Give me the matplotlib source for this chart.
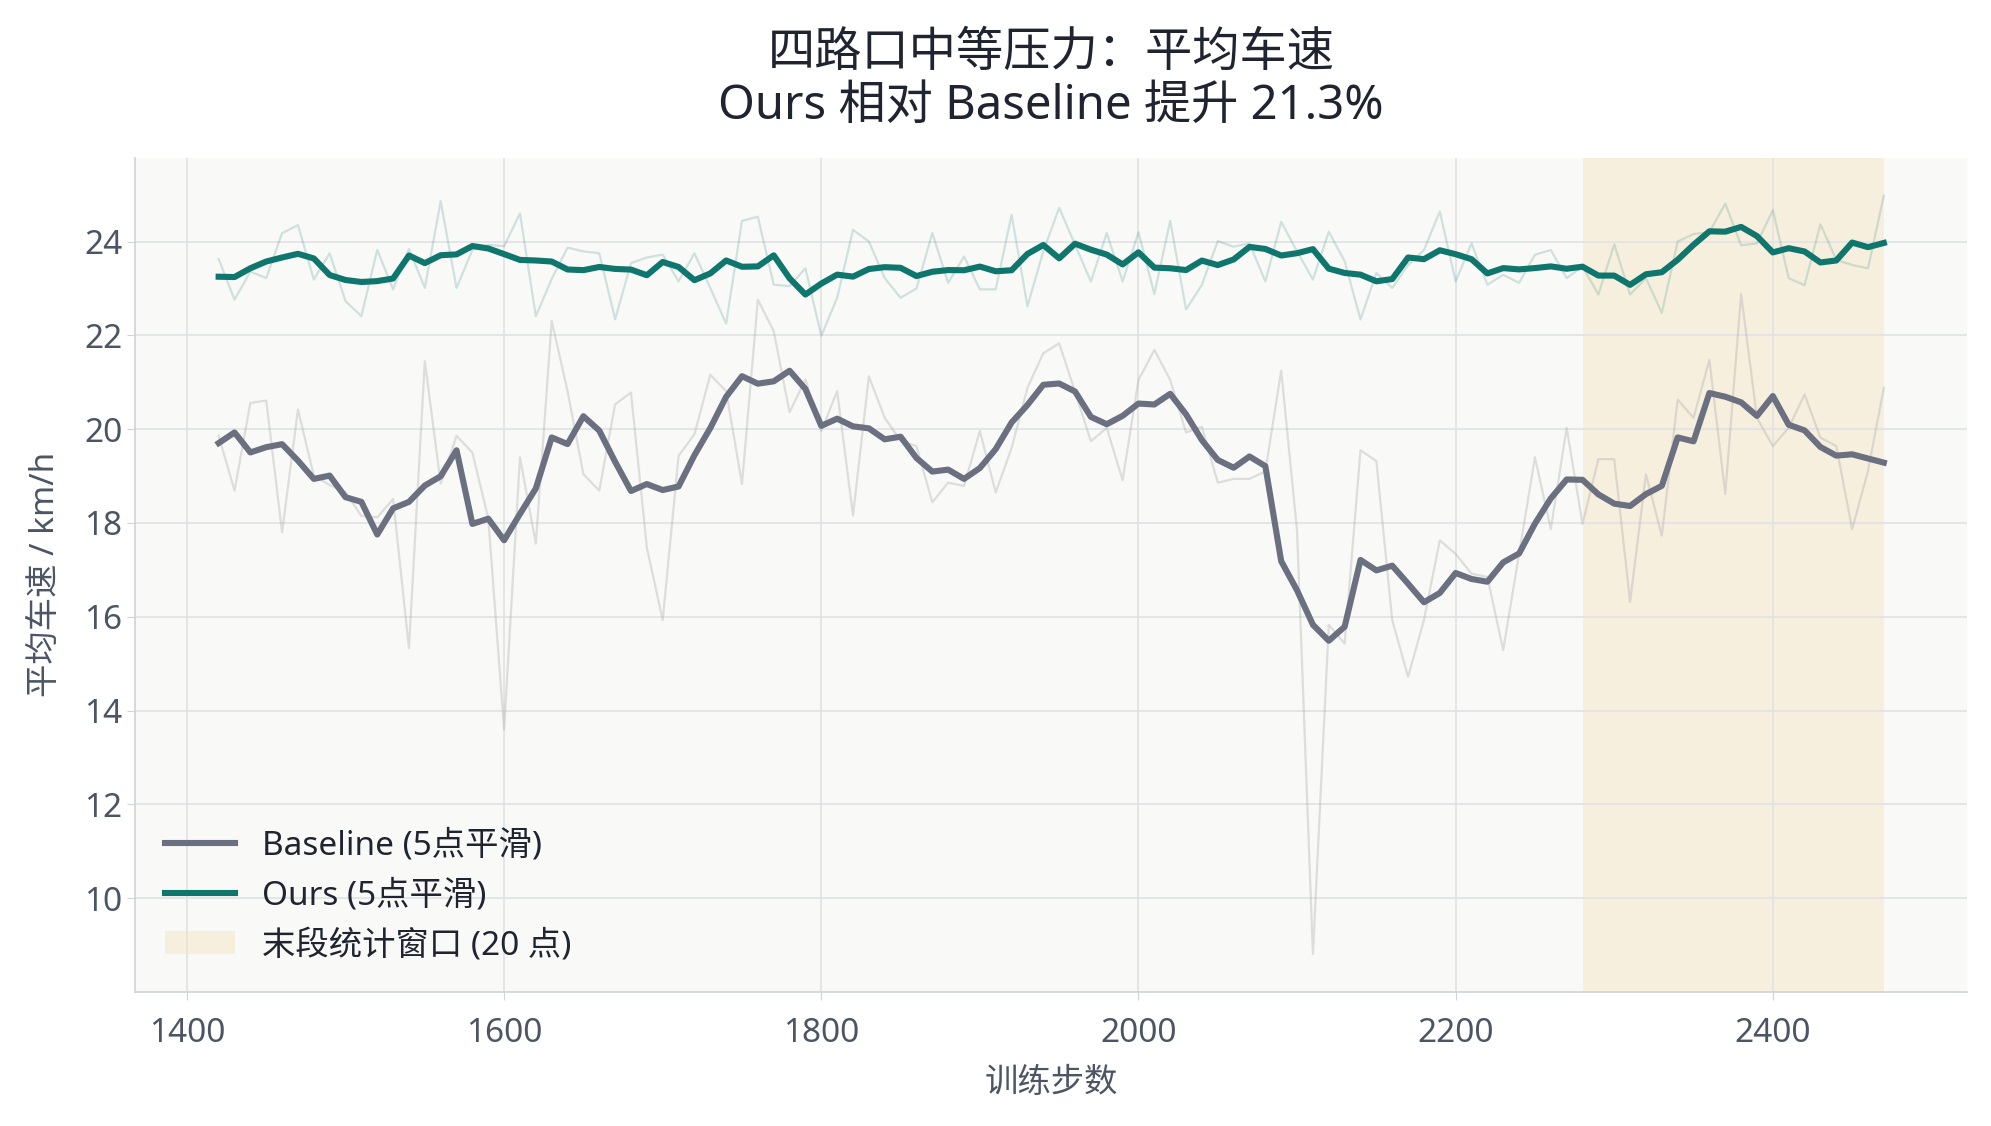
"""
四路口中等压力：平均车速 (Baseline vs Ours)
"""

import numpy as np
import pandas as pd
import matplotlib
matplotlib.use('Agg')
import matplotlib.pyplot as plt

plt.rcParams['font.family'] = ['Noto Sans', 'Noto Sans CJK SC', 'DejaVu Sans']
plt.rcParams['axes.unicode_minus'] = False

# training steps, one point every 10 steps
steps = np.arange(1420, 2471, 10)

# raw average speed (km/h)
baseline_raw = [
    19.86, 18.69, 20.56, 20.61, 17.80, 20.42, 19.01, 18.81, 18.66, 18.15,
    18.12, 18.51, 15.33, 21.45, 18.84, 19.86, 19.50, 18.10, 13.60, 19.40,
    17.56, 22.31, 20.81, 19.04, 18.69, 20.53, 20.78, 17.48, 15.93, 19.43,
    19.89, 21.16, 20.81, 18.83, 22.76, 22.09, 20.36, 21.06, 19.96, 20.81,
    18.16, 21.13, 20.24, 19.75, 19.64, 18.44, 18.86, 18.79, 19.96, 18.65,
    19.60, 20.88, 21.62, 21.83, 20.80, 19.74, 20.03, 18.91, 21.05, 21.69,
    21.05, 19.93, 20.05, 18.86, 18.94, 18.94, 19.10, 21.25, 17.83, 8.81,
    15.83, 15.43, 19.55, 19.32, 15.93, 14.72, 15.93, 17.63, 17.34, 16.92,
    16.85, 15.29, 17.34, 19.40, 17.87, 20.03, 17.98, 19.36, 19.36, 16.32,
    19.04, 17.73, 20.63, 20.24, 21.48, 18.62, 22.88, 20.24, 19.64, 20.03,
    20.74, 19.82, 19.64, 17.87, 19.11, 20.88,
]
ours_raw = [
    23.63, 22.76, 23.36, 23.22, 24.18, 24.35, 23.19, 23.75, 22.73, 22.41,
    23.82, 22.98, 23.84, 23.01, 24.86, 23.01, 23.82, 23.93, 23.90, 24.60,
    22.41, 23.20, 23.87, 23.79, 23.75, 22.34, 23.54, 23.66, 23.72, 23.15,
    23.75, 23.01, 22.25, 24.44, 24.53, 23.08, 23.05, 23.43, 21.99, 22.80,
    24.25, 24.00, 23.22, 22.80, 23.00, 24.18, 23.12, 23.68, 22.98, 22.98,
    24.57, 22.62, 23.79, 24.72, 23.93, 23.15, 24.18, 23.15, 24.20, 22.88,
    24.44, 22.55, 23.08, 24.01, 23.89, 23.96, 23.15, 24.42, 23.79, 23.19,
    24.21, 23.58, 22.34, 23.33, 23.01, 23.50, 23.82, 24.64, 23.15, 23.96,
    23.08, 23.29, 23.12, 23.72, 23.82, 23.22, 23.47, 22.87, 23.94, 22.87,
    23.22, 22.48, 24.00, 24.16, 24.20, 24.81, 23.92, 23.96, 24.67, 23.22,
    23.07, 24.37, 23.61, 23.50, 23.43, 24.98,
]

window_n = 20  # last points used for the statistics window

baseline_s = pd.Series(baseline_raw).rolling(5, center=True, min_periods=1).mean()
ours_s = pd.Series(ours_raw).rolling(5, center=True, min_periods=1).mean()

c_base = '#6b7080'
c_ours = '#0f766e'

fig = plt.figure(figsize=(19.91, 11.26), dpi=100)
ax = fig.add_axes([0.068, 0.119, 0.92, 0.741])
ax.set_facecolor('#f9f9f7')

span = ax.axvspan(steps[-window_n], steps[-1], color='#f5e4c0', alpha=0.45, lw=0,
                  label='末段统计窗口 (20 点)', zorder=0)

ax.plot(steps, baseline_raw, color='#a9a9a9', lw=1.6, alpha=0.35, zorder=1)
ax.plot(steps, ours_raw, color=c_ours, lw=1.6, alpha=0.18, zorder=1)
l_base, = ax.plot(steps, baseline_s, color=c_base, lw=4.4, label='Baseline (5点平滑)', zorder=3)
l_ours, = ax.plot(steps, ours_s, color=c_ours, lw=4.4, label='Ours (5点平滑)', zorder=3)

ax.grid(True, color='#e2e3e6', lw=1.3)
ax.set_axisbelow(True)
for side in ['top', 'right']:
    ax.spines[side].set_visible(False)
for side in ['left', 'bottom']:
    ax.spines[side].set_color('#cfd2d8')
    ax.spines[side].set_linewidth(1.2)
ax.tick_params(colors='#4b5563', labelsize=24, length=6, color='#cfd2d8')
ax.tick_params(axis='x', pad=12)
ax.set_yticks([10, 12, 14, 16, 18, 20, 22, 24])

ax.set_xlabel('训练步数', fontsize=24, color='#4b5563', labelpad=12)
ax.set_ylabel('平均车速 / km/h', fontsize=24, color='#4b5563', labelpad=16)
ax.set_title('四路口中等压力：平均车速\nOurs 相对 Baseline 提升 21.3%',
             fontsize=34, color='#1f2430', pad=28, linespacing=1.15)

leg = ax.legend([l_base, l_ours, span],
                ['Baseline (5点平滑)', 'Ours (5点平滑)', '末段统计窗口 (20 点)'],
                loc='lower left', frameon=False, fontsize=24,
                handlelength=2.1, labelspacing=0.5, borderaxespad=0.5)
for t in leg.get_texts():
    t.set_color('#1f2430')

plt.savefig('out.png', dpi=100)
